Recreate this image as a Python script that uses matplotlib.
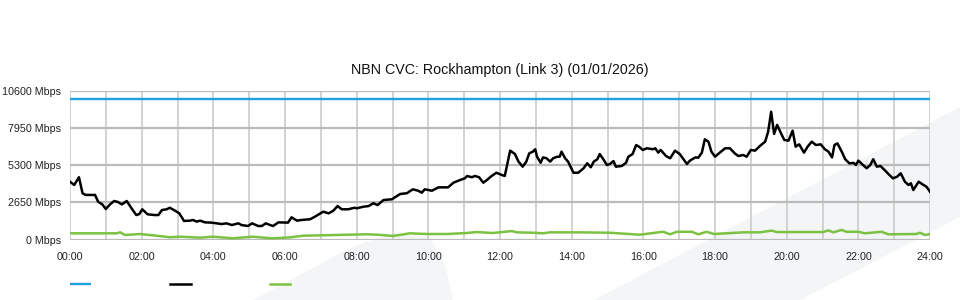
import numpy as np
import matplotlib
matplotlib.use('Agg')
import matplotlib.pyplot as plt
from matplotlib.patches import Polygon

plt.rcParams['font.family'] = ['Liberation Sans', 'DejaVu Sans']

title = 'NBN CVC: Rockhampton (Link 3) (01/01/2026)'
y_ticks = [0, 2650, 5300, 7950, 10600]
y_labels = ['0 Mbps', '2650 Mbps', '5300 Mbps', '7950 Mbps', '10600 Mbps']
x_tick_hours = list(range(0, 25, 2))
x_labels = ['%02d:00' % h for h in x_tick_hours]

capacity = 10000

# traffic (minutes from midnight, Mbps)
black_min = [0, 7, 15, 21, 26, 42, 47, 54, 60, 67, 74, 80, 87, 95, 103, 111, 116, 121, 130, 142,
             148, 154, 162, 167, 176, 183, 191, 201, 206, 212, 218, 226, 237, 246, 254, 262, 271,
             282, 287, 298, 305, 315, 321, 328, 335, 340, 349, 365, 371, 380, 388, 402, 410, 424,
             433, 441, 448, 455, 466, 476, 480, 491, 500, 508, 515, 525, 539, 544, 553, 564, 574,
             583, 589, 594, 606, 617, 633, 642, 653, 661, 665, 673, 678, 685, 692, 698, 706, 714,
             723, 728, 737, 745, 751, 758, 764, 769, 775, 779, 782, 788, 792, 798, 804, 809, 816,
             820, 823, 829, 834, 843, 851, 860, 866, 872, 877, 883, 887, 893, 899, 904, 910, 914,
             924, 931, 935, 942, 948, 953, 959, 966, 976, 980, 985, 989, 998, 1005, 1013, 1021,
             1033, 1038, 1047, 1052, 1058, 1063, 1069, 1074, 1080, 1088, 1097, 1105, 1113, 1119,
             1127, 1133, 1140, 1147, 1157, 1164, 1169, 1174, 1179, 1184, 1190, 1196, 1203, 1210,
             1215, 1221, 1229, 1235, 1242, 1249, 1257, 1264, 1270, 1276, 1280, 1285, 1293, 1298,
             1305, 1312, 1316, 1320, 1326, 1334, 1340, 1345, 1351, 1357, 1364, 1372, 1378, 1385,
             1391, 1398, 1404, 1408, 1412, 1421, 1429, 1434, 1440]
black_val = [4110, 3880, 4430, 3290, 3170, 3170, 2690, 2500, 2170, 2500, 2740, 2670, 2500, 2740, 2220,
             1740, 1810, 2150, 1790, 1740, 1740, 2100, 2150, 2260, 2050, 1860, 1320, 1340, 1390, 1270,
             1340, 1220, 1200, 1150, 1100, 1150, 1030, 1150, 1030, 960, 1150, 960, 960, 1150, 1030,
             960, 1220, 1200, 1580, 1340, 1390, 1440, 1620, 1980, 1860, 2050, 2380, 2150, 2150, 2260,
             2220, 2330, 2380, 2580, 2450, 2810, 2860, 3000, 3240, 3290, 3570, 3470, 3330, 3570, 3470,
             3710, 3710, 4040, 4230, 4350, 4520, 4430, 4520, 4430, 4040, 4230, 4520, 4750, 4590, 4520,
             6320, 6080, 5540, 5180, 5540, 6130, 6250, 6420, 5890, 5460, 5840, 5780, 5540, 5780, 5890,
             5890, 6250, 5780, 5540, 4750, 4750, 5070, 5420, 5140, 5540, 5710, 6080, 5710, 5300, 5370,
             5580, 5180, 5230, 5460, 5890, 6080, 6720, 6600, 6370, 6490, 6420, 6490, 6180, 6370, 5940,
             5780, 6320, 6080, 5370, 5610, 5840, 5820, 6180, 7130, 6960, 6250, 5890, 6180, 6490, 6490,
             6130, 5940, 6010, 5890, 6370, 6320, 6720, 6960, 7670, 9090, 7510, 8150, 7600, 7080, 7030,
             7740, 6600, 6770, 6180, 6600, 6960, 6720, 6770, 6420, 6250, 5840, 6720, 6840, 6180, 5710,
             5420, 5450, 5300, 5610, 5370, 5070, 5300, 5710, 5180, 5230, 4940, 4590, 4350, 4470, 4710,
             4110, 3880, 4000, 3520, 4110, 3880, 3760, 3400]

green_min = [0, 50, 78, 84, 92, 117, 145, 167, 184, 218, 239, 273, 305, 338, 368, 391, 497, 519, 541,
             569, 597, 631, 664, 681, 708, 740, 748, 776, 792, 804, 854, 904, 954, 993, 1005, 1016,
             1041, 1052, 1066, 1078, 1127, 1155, 1175, 1183, 1261, 1270, 1278, 1292, 1300, 1320,
             1331, 1359, 1370, 1417, 1423, 1432, 1440]
green_val = [440, 440, 440, 510, 320, 390, 270, 160, 200, 130, 200, 85, 200, 85, 150, 270, 370, 330, 250,
             440, 390, 390, 460, 530, 460, 600, 510, 480, 440, 510, 510, 480, 340, 550, 370, 550,
             550, 370, 550, 390, 510, 510, 630, 530, 530, 650, 510, 680, 550, 550,
             440, 550, 370, 390, 480, 320, 390]

fig = plt.figure(figsize=(9.6, 3.0), dpi=100)

# faint watermark shapes in the background
wm = '#f4f5f7'
fig.patches.append(Polygon([(253/960, 0), (300/960, 25/300), (350/960, 52/300), (395/960, 68/300),
                            (430/960, 62/300), (445/960, 35/300), (453/960, 0)],
                           closed=True, transform=fig.transFigure, facecolor=wm, edgecolor='none', zorder=0))
fig.patches.append(Polygon([(594/960, 0), (960/960, 193/300), (960/960, 83/300), (800/960, 0)],
                           closed=True, transform=fig.transFigure, facecolor=wm, edgecolor='none', zorder=0))

ax = fig.add_axes([70/960, 60.5/300, 860/960, 149/300])
ax.set_zorder(2)
ax.set_facecolor('none')

ax.set_xlim(0, 1440)
ax.set_ylim(0, 10600)
ax.set_xticks([h * 60 for h in x_tick_hours])
ax.set_xticklabels(x_labels)
ax.set_xticks([h * 60 for h in range(1, 24, 2)], minor=True)
ax.set_yticks(y_ticks)
ax.set_yticklabels(y_labels)

for s in ax.spines.values():
    s.set_visible(False)
ax.tick_params(axis='both', which='both', length=0, labelsize=7.75, colors='#222222')
ax.tick_params(axis='y', pad=6.5)
ax.tick_params(axis='x', pad=9)

ax.grid(True, axis='x', which='both', color='#cccccc', linewidth=1.2, zorder=1)
ax.grid(True, axis='y', which='major', color='#bbbbbb', linewidth=1.6, zorder=1)

l1, = ax.plot([0, 1440], [capacity, capacity], color='#1ea3e2', linewidth=1.7, zorder=3,
              solid_capstyle='butt')
l2, = ax.plot(black_min, black_val, color='#000000', linewidth=1.8, zorder=4)
l3, = ax.plot(green_min, green_val, color='#7cc242', linewidth=1.8, zorder=3)

ax.set_title(title, fontsize=10.3, pad=12, color='#111111')

fig.legend([l1, l2, l3], [' ', ' ', ' '], ncol=3, frameon=False, loc='center left',
           bbox_to_anchor=(70/960, 15/300), borderpad=0, borderaxespad=0,
           handlelength=2.0, handletextpad=0.8, columnspacing=6.5, fontsize=7.5)

fig.savefig('out.png', dpi=100)
